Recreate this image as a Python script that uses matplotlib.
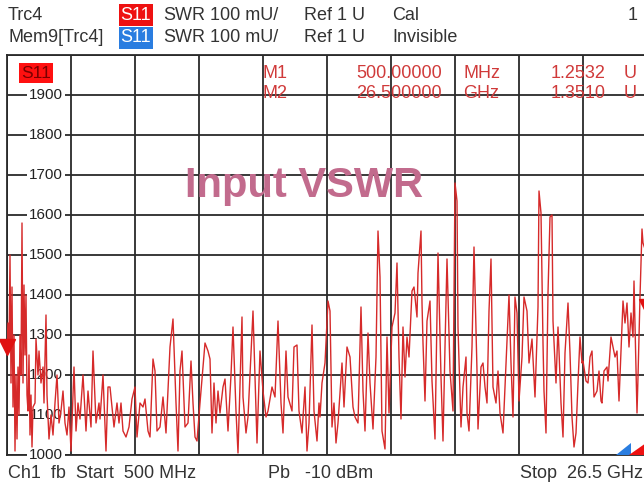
import matplotlib
matplotlib.use('Agg')
import matplotlib.pyplot as plt
import numpy as np
from matplotlib.transforms import blended_transform_factory
from matplotlib.patches import Polygon

plt.rcParams['font.family'] = ['Liberation Sans', 'DejaVu Sans']

# sweep setup (ch1)
start_ghz = 0.5
stop_ghz = 26.5
n_points = 641

# trace Trc4, S11 SWR in mU at sweep points
sweep_pt = [0, 1, 2, 3, 4, 5, 6, 7, 8, 9, 10, 11, 12, 13, 14, 15, 16, 17, 18, 19,
            20, 21, 22, 23, 24, 25, 26, 28, 29, 31, 32, 34, 36, 37, 39, 40, 42, 44, 46, 48,
            50, 52, 54, 56, 58, 60, 62, 64, 67, 69, 71, 73, 76, 79, 81, 84, 86, 89, 92, 93,
            96, 99, 101, 103, 105, 107, 110, 112, 114, 116, 119, 122, 125, 128, 130, 133, 136, 138, 141, 143,
            146, 148, 150, 153, 156, 159, 163, 166, 169, 171, 173, 175, 178, 181, 184, 186, 188, 190, 193, 198,
            201, 203, 205, 207, 209, 211, 213, 216, 218, 221, 224, 226, 229, 231, 235, 236, 239, 241, 246, 248,
            250, 253, 256, 259, 261, 265, 268, 271, 274, 276, 279, 281, 285, 287, 290, 292, 295, 298, 300, 302,
            305, 307, 310, 312, 313, 315, 318, 321, 323, 325, 327, 329, 331, 335, 337, 340, 343, 346, 348, 351,
            354, 356, 358, 361, 363, 366, 369, 371, 373, 375, 378, 380, 382, 385, 388, 390, 392, 394, 396, 398,
            400, 402, 405, 407, 410, 411, 414, 415, 416, 418, 420, 423, 425, 428, 431, 434, 436, 438, 440, 443,
            446, 448, 450, 451, 454, 456, 459, 460, 462, 465, 467, 470, 471, 474, 476, 478, 480, 482, 484, 486,
            489, 491, 493, 496, 498, 500, 502, 504, 506, 508, 510, 512, 515, 517, 520, 522, 525, 526, 528, 531,
            532, 534, 536, 537, 539, 541, 543, 545, 546, 549, 551, 552, 554, 556, 558, 561, 563, 565, 567, 569,
            571, 573, 575, 576, 579, 581, 583, 585, 587, 590, 592, 594, 595, 597, 600, 601, 604, 606, 608, 610,
            612, 615, 616, 618, 620, 622, 624, 626, 627, 630, 631, 633, 635, 636, 640]
swr_mu = [1280, 1330, 1260, 1500, 1180, 1420, 1120, 1300, 1010, 1200, 1040, 1220, 1100, 1300, 1200, 1580, 1180, 1425, 1250, 1400,
          1150, 1110, 1250, 1050, 1150, 1020, 1120, 1130, 1290, 1200, 1260, 1180, 1220, 1130, 1350, 1150, 1040, 1100, 1050, 1130,
          1200, 1080, 1110, 1160, 1080, 1050, 1120, 1010, 1220, 1060, 1130, 1090, 1200, 1060, 1160, 1070, 1260, 1080, 1130, 1090,
          1200, 1010, 1170, 1170, 1120, 1070, 1130, 1080, 1130, 1060, 1045, 1070, 1140, 1170, 1045, 1130, 1120, 1140, 1060, 1045,
          1240, 1210, 1060, 1070, 1145, 1055, 1270, 1340, 1130, 1010, 1210, 1260, 1070, 1080, 1235, 1130, 1045, 1035, 1130, 1280,
          1260, 1240, 1055, 1180, 1080, 1160, 1105, 1170, 1190, 1060, 1200, 1320, 1110, 1005, 1345, 1145, 1055, 1095, 1360, 1195,
          1030, 1260, 1160, 1095, 1110, 1170, 1145, 1335, 1130, 1055, 1260, 1145, 1110, 1270, 1275, 1110, 1055, 1170, 1010, 1080,
          1325, 1110, 1035, 1130, 1095, 1180, 1230, 1385, 1360, 1070, 1130, 1030, 1080, 1230, 1120, 1270, 1245, 1120, 1095, 1080,
          1370, 1160, 1060, 1305, 1180, 1065, 1245, 1560, 1445, 1060, 1015, 1295, 1105, 1320, 1355, 1480, 1245, 1090, 1320, 1195,
          1295, 1245, 1410, 1420, 1345, 1455, 1560, 1380, 1280, 1135, 1335, 1385, 1185, 1040, 1505, 1195, 1035, 1270, 1490, 1210,
          1110, 1680, 1635, 1320, 1070, 1170, 1245, 1105, 1060, 1270, 1520, 1210, 1065, 1220, 1230, 1170, 1130, 1360, 1490, 1170,
          1130, 1210, 1105, 1055, 1170, 1280, 1400, 1230, 1095, 1395, 1355, 1135, 1245, 1395, 1360, 1230, 1290, 1240, 1145, 1370,
          1660, 1605, 1280, 1160, 1055, 1405, 1595, 1600, 1335, 1180, 1320, 1260, 1130, 1045, 1255, 1380, 1255, 1095, 1020, 1055,
          1180, 1295, 1230, 1235, 1185, 1180, 1245, 1260, 1145, 1160, 1210, 1135, 1130, 1210, 1220, 1185, 1295, 1270, 1245, 1260,
          1135, 1320, 1385, 1330, 1380, 1270, 1355, 1295, 1435, 1105, 1195, 1395, 1565, 1530, 1500]

y_ticks = [1000, 1100, 1200, 1300, 1400, 1500, 1600, 1700, 1800, 1900]

marker_names = ['M1', 'M2']
marker_freq_ghz = [0.5, 26.5]
marker_freq_text = ['500.00000', '26.500000']
marker_freq_unit = ['MHz', 'GHz']
marker_swr = [1.2532, 1.3510]

W, H = 644, 488
fig = plt.figure(figsize=(W / 100, H / 100), dpi=100)
ax = fig.add_axes([7 / W, 33 / H, 640 / W, 400 / H])

def px(x, y):
    return x / W, 1 - y / H

grid_c = '#2a2a2a'
trace_c = '#d62a2a'
fs = 13

freq = start_ghz + np.array(sweep_pt) * (stop_ghz - start_ghz) / (n_points - 1)
ax.plot(freq, swr_mu, color=trace_c, lw=1.0, zorder=5)

ax.set_xlim(start_ghz, stop_ghz)
ax.set_ylim(1000, 2000)
ax.set_xticks(np.linspace(start_ghz, stop_ghz, 11))
ax.set_yticks(np.arange(1000, 2001, 100))
ax.grid(True, color=grid_c, lw=1.3)
ax.tick_params(length=0, labelleft=False, labelbottom=False)
for s in ax.spines.values():
    s.set_color(grid_c)
    s.set_linewidth(1.3)

# y labels sit on the graticule with a white patch
tr = blended_transform_factory(ax.transAxes, ax.transData)
for v in y_ticks:
    ax.text(56 / 640, v, str(v), transform=tr, ha='right', va='center', fontsize=11,
            color='#222222', zorder=4,
            bbox=dict(boxstyle='square,pad=0.12', fc='white', ec='none'))

# marker triangles
for f, s in zip(marker_freq_ghz, marker_swr):
    ax.plot(f, s * 1000 + 18, marker='v', color='#e01010', ms=11, clip_on=False, zorder=6)

# trace label inside diagram
fig.text(*px(36, 73), 'S11', ha='center', va='center', fontsize=12.5, color='#7a0000',
         bbox=dict(boxstyle='square,pad=0.12', fc='#ff1010', ec='none'), zorder=7)

# marker info table
mc = '#d03a3a'
for i, name in enumerate(marker_names):
    yy = 73.5 + 20 * i
    fig.text(*px(262, yy), name, ha='left', va='center', fontsize=fs, color=mc, zorder=7)
    fig.text(*px(442, yy), marker_freq_text[i], ha='right', va='center', fontsize=fs, color=mc, zorder=7)
    fig.text(*px(463, yy), marker_freq_unit[i], ha='left', va='center', fontsize=fs, color=mc, zorder=7)
    fig.text(*px(606, yy), f'{marker_swr[i]:.4f}', ha='right', va='center', fontsize=fs, color=mc, zorder=7)
    fig.text(*px(624, yy), 'U', ha='left', va='center', fontsize=fs, color=mc, zorder=7)

fig.text(*px(304, 186), 'Input VSWR', ha='center', va='center', fontsize=30,
         fontweight='bold', color='#c26b8d', zorder=8)

# header lines
hc = '#333333'
for yy, name, box_c, state in [(15, 'Trc4', '#ee1111', 'Cal'),
                               (38, 'Mem9[Trc4]', '#2a7de0', 'Invisible')]:
    fig.text(*px(8, yy), name, ha='left', va='center', fontsize=fs, color=hc)
    fig.text(*px(136, yy), 'S11', ha='center', va='center', fontsize=fs, color='white',
             bbox=dict(boxstyle='square,pad=0.12', fc=box_c, ec='none'))
    fig.text(*px(163, yy), 'SWR', ha='left', va='center', fontsize=fs, color=hc)
    fig.text(*px(210, yy), '100 mU/', ha='left', va='center', fontsize=fs, color=hc)
    fig.text(*px(304, yy), 'Ref 1 U', ha='left', va='center', fontsize=fs, color=hc)
    fig.text(*px(392, yy), state, ha='left', va='center', fontsize=fs, color=hc)
fig.text(*px(628, 15), '1', ha='left', va='center', fontsize=fs, color=hc)

# footer
fig.text(*px(8, 473), 'Ch1  fb  Start  500 MHz', ha='left', va='center', fontsize=fs, color=hc)
fig.text(*px(268, 473), 'Pb   -10 dBm', ha='left', va='center', fontsize=fs, color=hc)
fig.text(*px(643, 473), 'Stop  26.5 GHz', ha='right', va='center', fontsize=fs, color=hc)

# stimulus wedges bottom right
for xs, c in [((616, 631, 631), '#2a7de0'), ((629, 646, 646), '#ee1111')]:
    pts = [px(xs[0], 455), px(xs[1], 455), px(xs[2], 443)]
    fig.patches.append(Polygon(pts, closed=True, transform=fig.transFigure, fc=c, ec='none', zorder=9))

plt.savefig('out.png', dpi=100)
